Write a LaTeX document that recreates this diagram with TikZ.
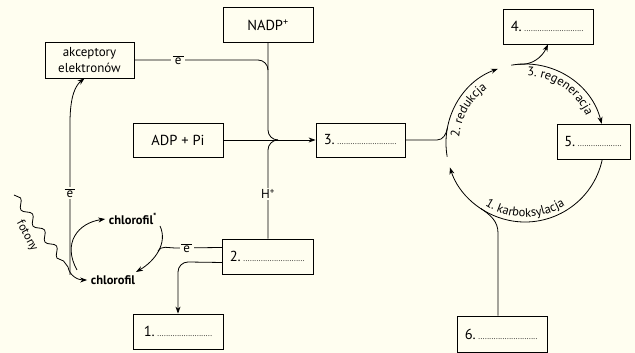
\documentclass[tikz,border=0pt]{standalone}
\usepackage{fontspec}
\setmainfont{PT Sans}
\usetikzlibrary{arrows.meta,decorations.pathmorphing,decorations.text}
\definecolor{paper}{RGB}{255,254,240}
\newcommand\dotline[1]{\makebox[#1]{\leaders\hbox to 2.2pt{\hss\fontsize{8}{8}\selectfont.\hss}\hfill}}
\newcommand\elec{$\overline{\mbox{\,e\,}}$}
\newcommand\arclab{\fontsize{12.5}{14}\selectfont}

\begin{document}
\begin{tikzpicture}[x=1pt,y=1pt,line width=0.8pt,
    box/.style={draw, fill=paper, minimum width=90pt, minimum height=35pt, inner sep=2pt, font=\fontsize{14.5}{17}\selectfont},
    arr/.style={-{Stealth[length=7pt,width=5pt]}},
    lab/.style={fill=paper, inner sep=1.5pt, font=\fontsize{13}{15}\selectfont}]
    \fill[paper] (0,0) rectangle (635,353);
    \useasboundingbox (0,0) rectangle (635,353);

    % boxes
    \node[box] (nadp) at (268,328) {NADP\textsuperscript{+}};
    \node[box, minimum width=89pt, minimum height=36pt, align=center, font=\fontsize{13}{16}\selectfont] (akc) at (89.5,293) {akceptory\\elektronów};
    \node[box, minimum height=34pt] (adp) at (178,213) {ADP + Pi};
    \node[box, minimum width=89pt, minimum height=34pt] (box3) at (360.5,213) {3.\,\dotline{60pt}};
    \node[box] (box4) at (548,326.5) {4.\,\dotline{61pt}};
    \node[box, minimum width=73pt] (box5) at (593.5,211.5) {5.\,\dotline{45pt}};
    \node[box, minimum width=91pt] (box2) at (268,96.5) {2.\,\dotline{63pt}};
    \node[box] (box1) at (178,21.5) {1.\,\dotline{55pt}};
    \node[box, minimum height=36pt] (box6) at (502,19) {6.\,\dotline{61pt}};

    \node[font=\fontsize{12.5}{14}\selectfont\bfseries] (chl) at (113,73) {chlorofil};
    \node[font=\fontsize{12.5}{14}\selectfont\bfseries] (chls) at (133,134) {chlorofil\textsuperscript{*}};
    \node[rotate=-62, font=\fontsize{12}{13}\selectfont] (fot) at (27,117) {fotony};

    % light reactions
    \draw (akc.east) -- node[lab, pos=0.355] {\elec} (258,293) to[out=0,in=90] (268,283);
    \draw (nadp.south) -- (268,223) to[out=-90,in=180] (278,213);
    \draw (box2.north) -- node[lab] {H\textsuperscript{+}} (268,203) to[out=90,in=180] (278,213);
    \draw[arr] (adp.east) -- (box3.west);
    \draw[arr] (70,78) -- node[lab, pos=0.54] {\elec} (70,230) .. controls (70,258) and (76,268) .. ([xshift=-5pt]akc.south);
    \draw[arr] (14,158) decorate[decoration={snake, amplitude=3.5pt, segment length=20pt}] {-- (68,86)} to[out=-80,in=180] (chl.west);
    \draw[arr] (77,83) .. controls (62,110) and (78,130) .. (chls.west);
    \draw[arr] (160,127) .. controls (168,110) and (155,92) .. (136,81);
    \draw ([yshift=9pt]box2.west) -- node[lab, pos=0.75] {\elec} (175,105) to[out=180,in=60] (158,102);
    \draw[arr] ([yshift=-6pt]box2.west) -- (188,91) to[out=180,in=90] (178,81) -- (box1.north);

    % Calvin cycle
    \coordinate (cc) at (525,210);
    \draw (box3.east) -- (437,213) to[out=0,in=-101] ([shift={(169:79)}]cc);
    \draw[arr] ([shift={(190:79)}]cc) arc[start angle=190, end angle=110, radius=79];
    \draw[arr] ([shift={(100:79)}]cc) arc[start angle=100, end angle=14, radius=79];
    \draw[arr] ([shift={(95:79)}]cc) to[out=-5,in=-115] (box4.south);
    \draw[arr] ([shift={(-12:79)}]cc) arc[start angle=-12, end angle=-162, radius=79];
    \draw ([xshift=-4pt]box6.north) -- (498,120) to[out=90,in=-34] ([shift={(236:79)}]cc);

    \path[decorate, decoration={text along path, text align=center, text={|\arclab|2. redukcja}}]
        ([shift={(190:66)}]cc) arc[start angle=190, end angle=110, radius=66];
    \path[decorate, decoration={text along path, text align=center, text={|\arclab|3. regeneracja}}]
        ([shift={(100:67)}]cc) arc[start angle=100, end angle=12, radius=67];
    \path[decorate, decoration={text along path, text align=center, text={|\arclab|1. karboksylacja}}]
        ([shift={(225:74)}]cc) arc[start angle=225, end angle=315, radius=74];
\end{tikzpicture}
\end{document}
